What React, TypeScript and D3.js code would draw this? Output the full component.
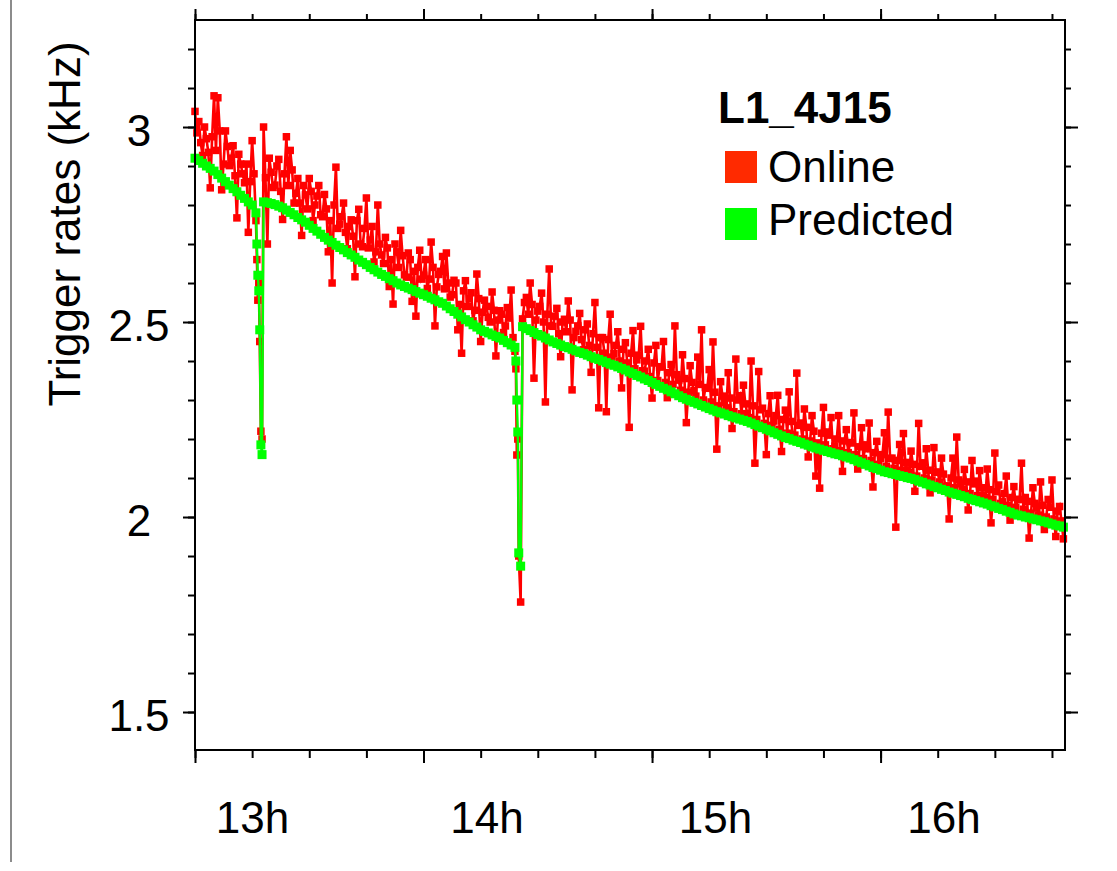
import * as d3 from "d3";
import { useEffect, useRef } from "react";

// one sample per minute, starting at 13:00
const startHour = 13;

const onlineRates = [
  3.040, 3.014, 2.927, 2.970, 2.844, 3.080, 3.075, 2.839, 2.990, 2.901,
  2.952, 2.767, 2.905, 2.857, 2.730, 2.965, 2.760, 2.450, 3.000, 2.700,
  2.884, 2.851, 2.917, 2.763, 2.975, 2.940, 2.805, 2.868, 2.722, 2.826,
  2.868, 2.760, 2.823, 2.775, 2.827, 2.680, 2.600, 2.897, 2.751, 2.805,
  2.688, 2.762, 2.616, 2.789, 2.693, 2.818, 2.710, 2.654, 2.800, 2.672,
  2.717, 2.591, 2.546, 2.680, 2.735, 2.621, 2.677, 2.553, 2.515, 2.684,
  2.620, 2.586, 2.705, 2.490, 2.622, 2.668, 2.677, 2.564, 2.607, 2.480,
  2.420, 2.606, 2.560, 2.503, 2.623, 2.450, 2.556, 2.512, 2.577, 2.413,
  2.529, 2.473, 2.537, 2.582, 2.425, 1.900, 2.508, 2.563, 2.600, 2.356,
  2.528, 2.574, 2.295, 2.636, 2.489, 2.535, 2.411, 2.507, 2.554, 2.326,
  2.476, 2.522, 2.429, 2.495, 2.371, 2.550, 2.280, 2.460, 2.270, 2.520,
  2.419, 2.475, 2.331, 2.447, 2.230, 2.478, 2.403, 2.489, 2.374, 2.430,
  2.305, 2.440, 2.385, 2.450, 2.306, 2.391, 2.490, 2.351, 2.416, 2.242,
  2.388, 2.324, 2.410, 2.480, 2.332, 2.378, 2.449, 2.174, 2.347, 2.294,
  2.370, 2.227, 2.405, 2.311, 2.338, 2.265, 2.400, 2.138, 2.373, 2.279,
  2.160, 2.311, 2.246, 2.312, 2.168, 2.274, 2.321, 2.207, 2.369, 2.241,
  2.277, 2.154, 2.260, 2.105, 2.074, 2.281, 2.218, 2.255, 2.182, 2.260,
  2.117, 2.224, 2.191, 2.267, 2.123, 2.229, 2.185, 2.241, 2.077, 2.194,
  2.150, 2.216, 2.269, 2.151, 1.974, 2.186, 2.214, 2.121, 2.169, 2.066,
  2.240, 2.139, 2.175, 2.062, 2.178, 2.115, 2.151, 2.078, 1.995, 2.151,
  2.205, 2.085, 2.122, 2.018, 2.145, 2.092, 2.119, 2.056, 2.123, 1.985,
  2.164, 2.082, 2.039, 2.105, 1.992, 2.078, 2.045, 2.138, 2.050, 1.946,
  2.075, 2.023, 2.090, 1.968, 2.045, 2.095, 1.950, 2.027, 1.944,
];

// online samples taken half a minute after each of the above (null = none)
const onlineRatesHalf = [
  2.985, 2.960, 3.000, 2.935, 2.975, 2.940, 2.990, 2.905, 2.950, 2.920,
  2.875, 2.930, 2.880, 2.905, 2.860, 2.880, null, null, 2.870, 2.920,
  2.845, 2.900, 2.835, 2.880, 2.850, 2.890, 2.830, 2.805, 2.850, 2.790,
  2.835, 2.800, 2.850, 2.770, 2.790, 2.760, 2.800, 2.740, 2.770, 2.730,
  2.745, 2.720, 2.760, 2.700, 2.740, 2.690, 2.745, 2.680, 2.700, 2.650,
  2.690, 2.660, 2.700, 2.640, 2.670, 2.615, 2.660, 2.630, 2.640, 2.610,
  2.660, 2.610, 2.640, 2.590, 2.630, 2.585, 2.600, 2.570, 2.600, 2.545,
  2.580, 2.540, 2.575, 2.530, 2.560, 2.525, 2.540, 2.500, 2.530, 2.505,
  2.520, 2.490, 2.510, 2.460, null, null, 2.550, 2.520, 2.545, 2.505,
  2.540, 2.500, 2.520, 2.490, 2.515, 2.470, 2.500, 2.475, 2.505, 2.460,
  2.490, 2.455, 2.480, 2.440, 2.470, 2.435, 2.460, 2.420, 2.455, 2.410,
  2.440, 2.400, 2.430, 2.395, 2.420, 2.380, 2.415, 2.375, 2.400, 2.360,
  2.395, 2.350, 2.385, 2.345, 2.370, 2.340, 2.365, 2.325, 2.355, 2.320,
  2.345, 2.310, 2.340, 2.300, 2.330, 2.295, 2.320, 2.285, 2.310, 2.280,
  2.305, 2.270, 2.300, 2.265, 2.290, 2.255, 2.285, 2.250, 2.275, 2.240,
  2.265, 2.235, 2.260, 2.225, 2.250, 2.215, 2.245, 2.210, 2.235, 2.200,
  2.230, 2.195, 2.220, 2.190, 2.215, 2.185, 2.210, 2.175, 2.200, 2.170,
  2.195, 2.165, 2.190, 2.160, 2.180, 2.150, 2.175, 2.145, 2.165, 2.135,
  2.160, 2.130, 2.150, 2.125, 2.145, 2.120, 2.140, 2.115, 2.135, 2.105,
  2.130, 2.100, 2.120, 2.095, 2.115, 2.090, 2.110, 2.080, 2.100, 2.075,
  2.095, 2.070, 2.090, 2.060, 2.085, 2.055, 2.075, 2.050, 2.070, 2.045,
  2.065, 2.035, 2.060, 2.030, 2.050, 2.025, 2.045, 2.020, 2.040, 2.010,
  2.035, 2.005, 2.030, 2.000, 2.025, 1.995, 2.015, 1.990,
];

const predictedRates = [
  2.920, 2.914, 2.907, 2.900, 2.894, 2.887, 2.878, 2.869, 2.860, 2.851,
  2.842, 2.834, 2.825, 2.817, 2.808, 2.800, 2.780, 2.480, 2.808, 2.806,
  2.804, 2.801, 2.797, 2.793, 2.787, 2.781, 2.775, 2.768, 2.762, 2.756,
  2.748, 2.740, 2.733, 2.725, 2.717, 2.710, 2.704, 2.697, 2.691, 2.685,
  2.678, 2.672, 2.666, 2.659, 2.653, 2.647, 2.640, 2.634, 2.628, 2.622,
  2.617, 2.611, 2.606, 2.600, 2.595, 2.591, 2.587, 2.583, 2.578, 2.574,
  2.570, 2.566, 2.561, 2.557, 2.552, 2.548, 2.541, 2.534, 2.527, 2.520,
  2.513, 2.506, 2.500, 2.493, 2.487, 2.480, 2.476, 2.472, 2.467, 2.463,
  2.459, 2.453, 2.447, 2.441, 2.435, 1.908, 2.488, 2.483, 2.478, 2.473,
  2.468, 2.464, 2.459, 2.454, 2.449, 2.445, 2.441, 2.437, 2.434, 2.430,
  2.426, 2.422, 2.419, 2.415, 2.411, 2.407, 2.404, 2.400, 2.396, 2.392,
  2.389, 2.385, 2.381, 2.377, 2.372, 2.368, 2.363, 2.359, 2.354, 2.350,
  2.345, 2.340, 2.335, 2.330, 2.326, 2.321, 2.316, 2.311, 2.306, 2.302,
  2.298, 2.294, 2.290, 2.286, 2.282, 2.278, 2.274, 2.270, 2.267, 2.264,
  2.260, 2.257, 2.254, 2.251, 2.248, 2.245, 2.241, 2.237, 2.233, 2.229,
  2.225, 2.221, 2.216, 2.212, 2.208, 2.204, 2.201, 2.197, 2.194, 2.191,
  2.187, 2.184, 2.180, 2.177, 2.174, 2.171, 2.168, 2.165, 2.162, 2.160,
  2.157, 2.154, 2.151, 2.147, 2.143, 2.139, 2.135, 2.131, 2.127, 2.124,
  2.120, 2.116, 2.114, 2.111, 2.109, 2.106, 2.104, 2.101, 2.099, 2.096,
  2.092, 2.089, 2.085, 2.082, 2.078, 2.075, 2.071, 2.068, 2.064, 2.061,
  2.058, 2.055, 2.052, 2.048, 2.045, 2.042, 2.039, 2.036, 2.033, 2.029,
  2.026, 2.022, 2.019, 2.015, 2.012, 2.008, 2.005, 2.003, 2.000, 1.998,
  1.995, 1.993, 1.990, 1.988, 1.985, 1.982, 1.979, 1.977, 1.974,
];

// extra samples taken during the two rate drops (minutes after 13:00)
const dipMinutes = [16.25, 16.5, 16.75, 17.3, 17.6, 84.25, 84.5, 84.75, 85.5];
const dipOnline = [2.66, 2.556, 2.6, 2.22, 2.2, 2.38, 2.159, 2.2, 1.782];
const dipPredicted = [2.7, 2.62, 2.58, 2.185, 2.16, 2.4, 2.3, 2.218, 1.874];

const xDomain: [number, number] = [13, 16.807];
const yDomain: [number, number] = [1.4026, 3.2744];

const xMajorTicks = [13, 14, 15, 16];
const xTickLabels = ["13h", "14h", "15h", "16h"];
const xMinorTicks = [
  13, 13.25, 13.5, 13.75, 14, 14.25, 14.5, 14.75, 15, 15.25, 15.5, 15.75, 16, 16.25, 16.5, 16.75,
];
const yMajorTicks = [1.5, 2, 2.5, 3];
const yMinorTicks = [
  1.5, 1.6, 1.7, 1.8, 1.9, 2, 2.1, 2.2, 2.3, 2.4, 2.5, 2.6, 2.7, 2.8, 2.9, 3, 3.1, 3.2,
];

const yTitle = "Trigger rates (kHz)";
const legendTitle = "L1_4J15";
const seriesNames = ["Online", "Predicted"];
const seriesColours = ["#ff0000", "#00ff00"];
const legendColours = ["#ff2a00", "#00ff00"];

interface Pt {
  minute: number;
  value: number;
}

const buildSeries = (perMinute: number[], half: (number | null)[], extra: number[]): Pt[] => {
  const pts = perMinute.map((v, i) => ({ minute: i, value: v }));
  half.forEach((v, i) => {
    if (v !== null) pts.push({ minute: i + 0.5, value: v });
  });
  dipMinutes.forEach((m, i) => pts.push({ minute: m, value: extra[i] }));
  return pts.sort((a, b) => a.minute - b.minute);
};

const App: React.FC = () => {
  const svgRef = useRef<SVGSVGElement | null>(null);

  useEffect(() => {
    const svg = d3.select(svgRef.current);
    svg.selectAll("*").remove();

    const plot = { left: 195, right: 1065, top: 20, bottom: 750 };
    const font = '"Liberation Sans", Arial, Helvetica, sans-serif';

    const x = d3.scaleLinear().domain(xDomain).range([plot.left, plot.right]);
    const y = d3.scaleLinear().domain(yDomain).range([plot.bottom, plot.top]);
    const toHour = (m: number) => startHour + m / 60;

    // thin page border on the far left
    svg.append("line")
      .attr("x1", 11).attr("x2", 11).attr("y1", 0).attr("y2", 862)
      .attr("stroke", "#666").attr("stroke-width", 1.5);

    const line = d3.line<Pt>()
      .x((d) => x(toHour(d.minute)))
      .y((d) => y(d.value));

    const drawSeries = (pts: Pt[], colour: string, size: number, width: number) => {
      const g = svg.append("g");
      g.append("path")
        .datum(pts)
        .attr("fill", "none")
        .attr("stroke", colour)
        .attr("stroke-width", width)
        .attr("d", line);
      g.selectAll("rect")
        .data(pts)
        .join("rect")
        .attr("x", (d) => x(toHour(d.minute)) - size / 2)
        .attr("y", (d) => y(d.value) - size / 2)
        .attr("width", size)
        .attr("height", size)
        .attr("fill", colour);
    };

    drawSeries(buildSeries(onlineRates, onlineRatesHalf, dipOnline), seriesColours[0], 7.5, 2.6);
    drawSeries(buildSeries(predictedRates, [], dipPredicted), seriesColours[1], 9, 2.4);

    const styleAxis = (g: d3.Selection<SVGGElement, unknown, null, undefined>) => {
      g.select(".domain").remove();
      g.selectAll("line").attr("stroke", "#000").attr("stroke-width", 2);
      g.attr("font-family", font).attr("font-size", 44);
    };
    const noLabel = () => "";

    // left axis
    svg.append("g").attr("transform", `translate(${plot.left},0)`)
      .call(d3.axisLeft(y).tickValues(yMinorTicks).tickSize(7).tickFormat(noLabel))
      .call(styleAxis);
    const left = svg.append("g").attr("transform", `translate(${plot.left},0)`)
      .call(d3.axisLeft(y).tickValues(yMajorTicks).tickSize(12).tickFormat(d3.format("")))
      .call(styleAxis);
    left.selectAll("text")
      .attr("x", -56).attr("dy", "0.41em")
      .attr("text-anchor", "middle").attr("fill", "#000");

    // right axis
    svg.append("g").attr("transform", `translate(${plot.right},0)`)
      .call(d3.axisRight(y).tickValues(yMinorTicks).tickSize(6).tickFormat(noLabel))
      .call(styleAxis);
    svg.append("g").attr("transform", `translate(${plot.right},0)`)
      .call(d3.axisRight(y).tickValues(yMajorTicks).tickSize(13).tickFormat(noLabel))
      .call(styleAxis);

    // top axis
    svg.append("g").attr("transform", `translate(0,${plot.top})`)
      .call(d3.axisTop(x).tickValues(xMinorTicks).tickSize(6).tickFormat(noLabel))
      .call(styleAxis);
    svg.append("g").attr("transform", `translate(0,${plot.top})`)
      .call(d3.axisTop(x).tickValues(xMajorTicks).tickSize(11).tickFormat(noLabel))
      .call(styleAxis);

    // bottom axis
    svg.append("g").attr("transform", `translate(0,${plot.bottom})`)
      .call(d3.axisBottom(x).tickValues(xMinorTicks).tickSize(8).tickFormat(noLabel))
      .call(styleAxis);
    const bottom = svg.append("g").attr("transform", `translate(0,${plot.bottom})`)
      .call(d3.axisBottom(x).tickValues(xMajorTicks).tickSize(13)
        .tickFormat((_d, i) => xTickLabels[i]))
      .call(styleAxis);
    bottom.selectAll("text")
      .attr("x", (_d, i) => (i === 0 ? 57 : 63)).attr("y", 83).attr("dy", 0)
      .attr("text-anchor", "middle").attr("fill", "#000");

    // frame
    svg.append("rect")
      .attr("x", plot.left).attr("y", plot.top)
      .attr("width", plot.right - plot.left).attr("height", plot.bottom - plot.top)
      .attr("fill", "none").attr("stroke", "#000").attr("stroke-width", 2);

    // y title
    svg.append("text")
      .attr("transform", `translate(80,224) rotate(-90)`)
      .attr("text-anchor", "middle")
      .attr("font-family", font).attr("font-size", 44)
      .text(yTitle);

    // legend
    const legend = svg.append("g").attr("font-family", font).attr("font-size", 44);
    legend.append("text")
      .attr("x", 718).attr("y", 123)
      .attr("font-weight", "bold")
      .text(legendTitle);
    seriesNames.forEach((name, i) => {
      legend.append("rect")
        .attr("x", 725).attr("y", 151 + i * 57)
        .attr("width", 32).attr("height", 32)
        .attr("fill", legendColours[i]);
      legend.append("text")
        .attr("x", 768).attr("y", 182 + i * 53)
        .text(name);
    });
  }, []);

  return (
    <svg
      ref={svgRef}
      width={1117}
      height={871}
      style={{ position: "absolute", left: 0, top: 0, background: "#fff" }}
    />
  );
};

export default App;
